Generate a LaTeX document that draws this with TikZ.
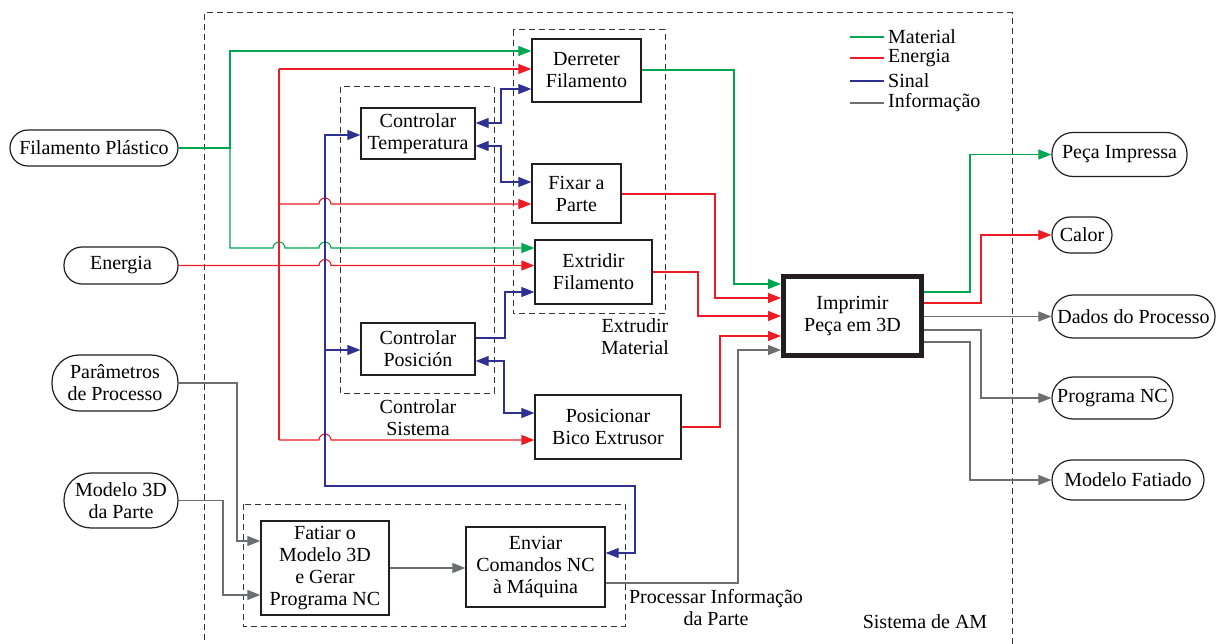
\documentclass[tikz,border=0pt]{standalone}
\usepackage{fontspec}
\setmainfont{Liberation Serif}
\usetikzlibrary{arrows.meta}
\definecolor{cmat}{HTML}{00A651}
\definecolor{cene}{HTML}{ED1C24}
\definecolor{csig}{HTML}{2E3192}
\definecolor{cinf}{HTML}{6D6E71}
\definecolor{cbox}{HTML}{231F20}
\definecolor{cdash}{HTML}{333333}
\begin{document}
\begin{tikzpicture}[x=1pt,y=-1pt,
  >={Triangle[length=13pt,width=10pt]},
  every node/.style={font=\fontsize{20}{22}\selectfont},
  box/.style={draw=cbox,line width=1.3pt,align=center,inner sep=0pt},
  pill/.style={draw=cbox,line width=1.2pt,rounded corners=#1,align=center,inner sep=0pt},
  grp/.style={draw=cdash,line width=1pt,dash pattern=on 6pt off 4pt},
  mat/.style={draw=cmat,line width=1.1pt},
  ene/.style={draw=cene,line width=1.1pt},
  sig/.style={draw=csig,line width=1.1pt},
  inf/.style={draw=cinf,line width=1.1pt},
  lbl/.style={align=center,inner sep=0pt}
]
\useasboundingbox (0,0) rectangle (1216,644);

% system boundary
\draw[grp] (204,650) -- (204,13) -- (1012,13) -- (1012,650);
\node[lbl] (lsys) at (925,622) {Sistema de AM};

% group boxes
\draw[grp] (513,30) rectangle (665,314);
\node[lbl] (lext) at (635,337) {Extrudir\\Material};
\draw[grp] (340,87) rectangle (494,393);
\node[lbl] (lcs) at (418,418) {Controlar\\Sistema};
\draw[grp] (243,504) rectangle (625,626);
\node[lbl] (lpi) at (716,608) {Processar Informação\\da Parte};

% inputs
\node[pill=18pt,minimum width=168pt,minimum height=36pt] (filp) at (94,148) {Filamento Plástico};
\node[pill=18pt,minimum width=114pt,minimum height=37pt] (energia) at (121,265.5) {Energia};
\node[pill=27pt,minimum width=126pt,minimum height=56pt] (param) at (115,383) {Parâmetros\\de Processo};
\node[pill=27pt,minimum width=114pt,minimum height=55pt] (mod3d) at (121,500.5) {Modelo 3D\\da Parte};

% outputs
\node[pill=21pt,minimum width=135pt,minimum height=44pt] (peca) at (1119.5,154.5) {Peça Impressa};
\node[pill=18pt,minimum width=60pt,minimum height=36pt] (calor) at (1082,235) {Calor};
\node[pill=21pt,minimum width=163pt,minimum height=43pt] (dados) at (1133.5,316.5) {Dados do Processo};
\node[pill=21pt,minimum width=121pt,minimum height=42pt] (prog) at (1112.5,398) {Programa NC};
\node[pill=20pt,minimum width=152pt,minimum height=40pt] (mfat) at (1128,480) {Modelo Fatiado};

% functions
\node[box,minimum width=109pt,minimum height=63pt] (der) at (586.5,70.5) {Derreter\\Filamento};
\node[box,minimum width=89pt,minimum height=59pt] (fix) at (576.5,193.5) {Fixar a\\Parte};
\node[box,minimum width=117pt,minimum height=64pt] (ext) at (593.5,272) {Extridir\\Filamento};
\node[box,minimum width=114pt,minimum height=51pt] (ct) at (418,133.5) {Controlar\\Temperatura};
\node[box,minimum width=114pt,minimum height=52pt] (cp) at (418,349) {Controlar\\Posición};
\node[box,minimum width=146pt,minimum height=64pt] (pos) at (608,427) {Posicionar\\Bico Extrusor};
\node[box,line width=5pt,minimum width=138pt,minimum height=79pt] (imp) at (852.5,316) {Imprimir\\Peça em 3D};
\node[box,minimum width=128pt,minimum height=94pt] (fat) at (325,568) {Fatiar o\\Modelo 3D\\e Gerar\\Programa NC};
\node[box,minimum width=139pt,minimum height=80pt] (env) at (535.5,567) {Enviar\\Comandos NC\\à Máquina};

% legend
\coordinate (lg1) at (850,37); \coordinate (lg2) at (850,58);
\coordinate (lg3) at (850,81); \coordinate (lg4) at (850,103);
\node[lbl,anchor=west] (lm) at (888,37) {Material};
\node[lbl,anchor=west] (le) at (888,58) {Energia};
\node[lbl,anchor=west] (ls) at (888,81) {Sinal};
\node[lbl,anchor=west] (li) at (888,103) {Informação};
\draw[mat] (lg1) -- ([xshift=-4pt]lm.west);
\draw[ene] (lg2) -- ([xshift=-4pt]le.west);
\draw[sig] (lg3) -- ([xshift=-4pt]ls.west);
\draw[inf] (lg4) -- ([xshift=-4pt]li.west);

% ---- material
\coordinate (gj) at (230,148);
\draw[mat,->] (filp.east) -- (gj) |- (der.west |- 0,51);
\draw[mat,->] (gj) |- (273,248) arc[start angle=180,end angle=0,radius=6pt] -- (319,248) arc[start angle=180,end angle=0,radius=6pt] -- (ext.west |- 0,248);
\draw[mat,->] (der.east |- 0,70) -| (734,284) -- (imp.west |- 0,284);
\draw[mat,->] (imp.east |- 0,292) -| (970,154.5) -- (peca.west);

% ---- energy
\coordinate (rtop) at (279,69);
\coordinate (rbot) at (279,440);
\draw[ene] (rtop) -- (rbot);
\draw[ene,->] (rtop) -- (der.west |- rtop);
\draw[ene,->] (279,204) -- (319,204) arc[start angle=180,end angle=0,radius=6pt] -- (fix.west |- 0,204);
\draw[ene,->] (energia.east) -- (319,265.5) arc[start angle=180,end angle=0,radius=6pt] -- (ext.west |- 0,265.5);
\draw[ene,->] (rbot) -- (319,440) arc[start angle=180,end angle=0,radius=6pt] -- (pos.west |- rbot);
\draw[ene,->] (fix.east |- 0,194) -| (715,298) -- (imp.west |- 0,298);
\draw[ene,->] (ext.east |- 0,272) -| (698,316) -- (imp.west |- 0,316);
\draw[ene,->] (pos.east |- 0,427) -| (720,336) -- (imp.west |- 0,336);
\draw[ene,->] (imp.east |- 0,303) -| (981,235) -- (calor.west);

% ---- signal
\draw[sig,<->] (ct.west |- 0,135) -| (325,486) -| (635,553) -- (env.east |- 0,553);
\draw[sig,->] (325,350) -- (cp.west |- 0,350);
\draw[sig,<->] (ct.east |- 0,123) -| (501,89) -- (der.west |- 0,89);
\draw[sig,<->] (ct.east |- 0,146) -| (501,182) -- (fix.west |- 0,182);
\draw[sig,->] (cp.east |- 0,338) -| (505,292) -- (ext.west |- 0,292);
\draw[sig,<->] (cp.east |- 0,361) -| (504,413) -- (pos.west |- 0,413);

% ---- information
\draw[inf,->] (env.east |- 0,583) -| (738,350) -- (imp.west |- 0,350);
\draw[inf,->] (imp.east |- dados.west) -- (dados.west);
\draw[inf,->] (imp.east |- 0,330) -| (981,398) -- (prog.west);
\draw[inf,->] (imp.east |- 0,342) -| (970,480) -- (mfat.west);
\draw[inf,->] (param.east) -| (237,541) -- (fat.west |- 0,541);
\draw[inf,->] (mod3d.east) -| (223,595) -- (fat.west |- 0,595);
\draw[inf,->] (fat.east) -- (env.west |- fat.east);
\end{tikzpicture}
\end{document}
